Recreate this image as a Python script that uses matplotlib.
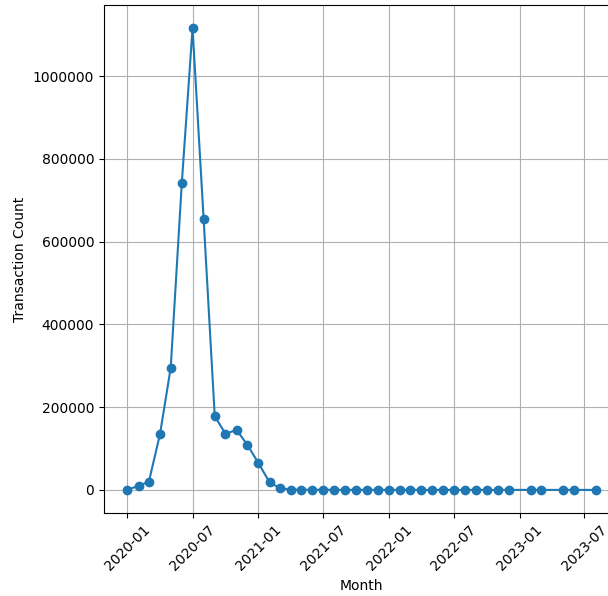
import matplotlib
matplotlib.use("Agg")
import matplotlib.pyplot as plt
import matplotlib.dates as mdates
import pandas as pd

months = (
    [f"2020-{m:02d}" for m in range(1, 13)]
    + [f"2021-{m:02d}" for m in range(1, 13)]
    + [f"2022-{m:02d}" for m in range(1, 13)]
    + ["2023-02", "2023-03", "2023-05", "2023-06", "2023-08"]
)
counts = [
    600, 9700, 20000, 134600, 295400, 742000, 1116000, 653700, 178000, 135600, 145000, 109000,
    65000, 18400, 4800, 900, 500, 400, 300, 300, 250, 200, 200, 200,
    150, 150, 120, 120, 100, 100, 100, 100, 100, 80, 80, 80,
    60, 60, 50, 50, 40,
]

dates = pd.to_datetime(months, format="%Y-%m")

fig = plt.figure(figsize=(6.08, 5.96), dpi=100)
ax = fig.add_axes([104 / 608, 1 - 513 / 596, (619 - 104) / 608, (513 - 5) / 596])
ax.plot(dates, counts, marker="o", color="#1f77b4")
ax.xaxis.set_major_locator(mdates.MonthLocator(bymonth=[1, 7]))
ax.xaxis.set_major_formatter(mdates.DateFormatter("%Y-%m"))
ax.ticklabel_format(axis="y", style="plain")
ax.grid(True)
ax.set_xlabel("Month")
ax.set_ylabel("Transaction Count")
for lbl in ax.get_xticklabels():
    lbl.set_rotation(45)
fig.savefig("out.png", dpi=100)
